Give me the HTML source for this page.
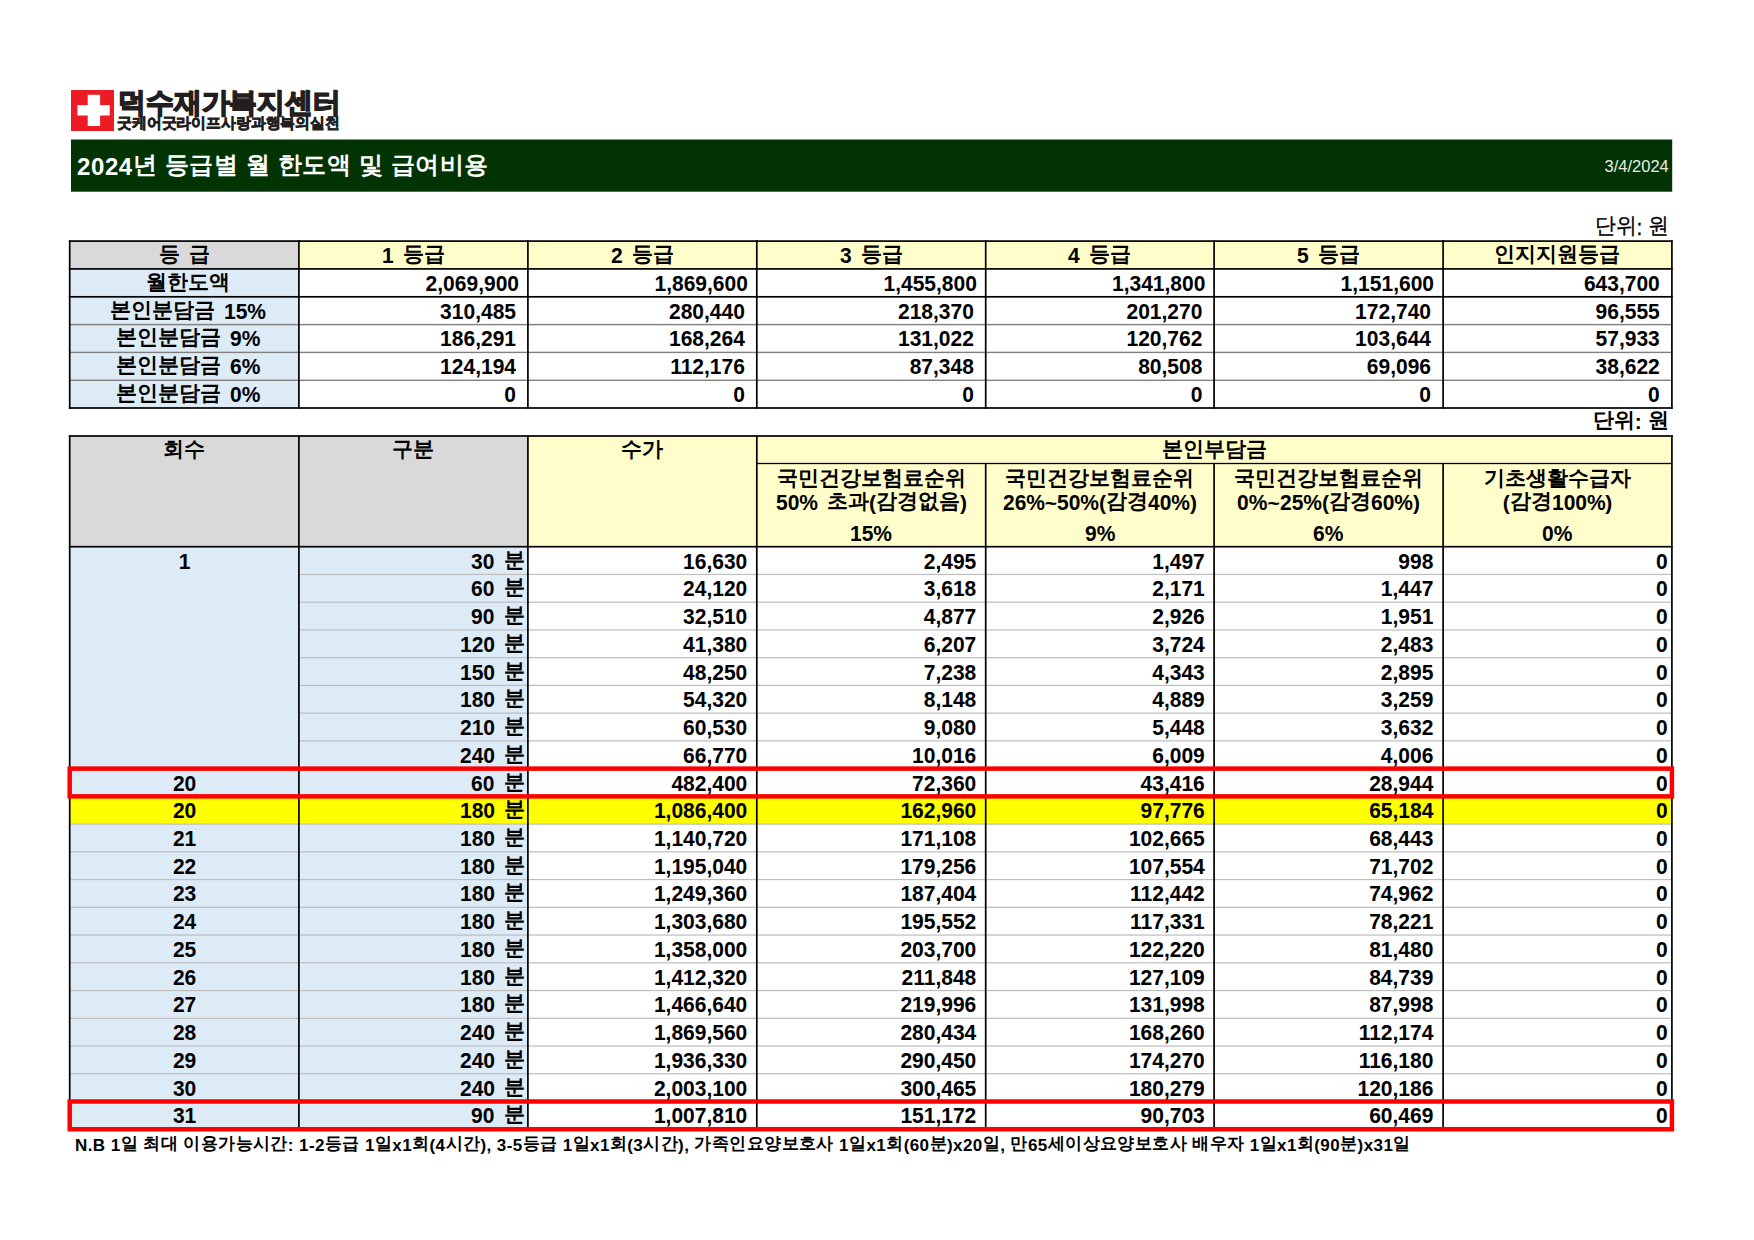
<!DOCTYPE html>
<html lang="ko"><head><meta charset="utf-8"><title>2024년 등급별 월 한도액 및 급여비용</title>
<style>
html,body{margin:0;padding:0;background:#fff;}
body{width:1754px;height:1240px;position:relative;overflow:hidden;font-family:"Liberation Sans", sans-serif;}
svg.bg{position:absolute;left:0;top:0;}
#t div{position:absolute;white-space:nowrap;line-height:40px;height:40px;}
.k{position:relative;}
.n{display:inline-block;line-height:1;transform-origin:0 50%;}
.t1h,.t1l,.t2s,.d1,.t2h{word-spacing:3.5px;}
</style></head><body>
<svg class="bg" width="1754" height="1240" viewBox="0 0 1754 1240">
<rect x="71.00" y="90.00" width="43.00" height="41.00" fill="#EC1C24"/>
<rect x="87.70" y="94.80" width="12.40" height="31.20" fill="#fff"/>
<rect x="77.40" y="105.10" width="32.30" height="10.40" fill="#fff"/>
<rect x="71.00" y="139.50" width="1601.20" height="52.20" fill="#023302"/>
<rect x="69.70" y="241.10" width="229.20" height="27.80" fill="#D9D9D9"/>
<rect x="298.90" y="241.10" width="1373.00" height="27.80" fill="#FFFDC9"/>
<rect x="69.70" y="268.90" width="229.20" height="139.10" fill="#DDEBF7"/>
<rect x="69.70" y="323.90" width="1602.20" height="1.40" fill="#7F7F7F"/>
<rect x="69.70" y="351.70" width="1602.20" height="1.40" fill="#7F7F7F"/>
<rect x="69.70" y="379.60" width="1602.20" height="1.40" fill="#7F7F7F"/>
<rect x="68.85" y="240.25" width="1603.90" height="1.70" fill="#000"/>
<rect x="68.85" y="268.05" width="1603.90" height="1.70" fill="#000"/>
<rect x="68.85" y="295.95" width="1603.90" height="1.70" fill="#000"/>
<rect x="68.85" y="407.15" width="1603.90" height="1.70" fill="#000"/>
<rect x="68.85" y="240.25" width="1.70" height="168.60" fill="#000"/>
<rect x="298.05" y="240.25" width="1.70" height="168.60" fill="#000"/>
<rect x="527.05" y="240.25" width="1.70" height="168.60" fill="#000"/>
<rect x="755.95" y="240.25" width="1.70" height="168.60" fill="#000"/>
<rect x="984.85" y="240.25" width="1.70" height="168.60" fill="#000"/>
<rect x="1213.25" y="240.25" width="1.70" height="168.60" fill="#000"/>
<rect x="1442.25" y="240.25" width="1.70" height="168.60" fill="#000"/>
<rect x="1671.05" y="240.25" width="1.70" height="168.60" fill="#000"/>
<rect x="69.70" y="436.00" width="458.20" height="110.70" fill="#D9D9D9"/>
<rect x="527.90" y="436.00" width="1144.00" height="110.70" fill="#FFFDC9"/>
<rect x="69.70" y="546.70" width="458.20" height="582.54" fill="#DDEBF7"/>
<rect x="69.70" y="796.36" width="1602.20" height="27.74" fill="#FFFF00"/>
<rect x="298.90" y="573.84" width="1373.00" height="1.20" fill="#BDBDBD"/>
<rect x="298.90" y="601.58" width="1373.00" height="1.20" fill="#BDBDBD"/>
<rect x="298.90" y="629.32" width="1373.00" height="1.20" fill="#BDBDBD"/>
<rect x="298.90" y="657.06" width="1373.00" height="1.20" fill="#BDBDBD"/>
<rect x="298.90" y="684.80" width="1373.00" height="1.20" fill="#BDBDBD"/>
<rect x="298.90" y="712.54" width="1373.00" height="1.20" fill="#BDBDBD"/>
<rect x="298.90" y="740.28" width="1373.00" height="1.20" fill="#BDBDBD"/>
<rect x="69.70" y="768.02" width="1602.20" height="1.20" fill="#BDBDBD"/>
<rect x="69.70" y="795.76" width="1602.20" height="1.20" fill="#BDBDBD"/>
<rect x="69.70" y="823.50" width="1602.20" height="1.20" fill="#BDBDBD"/>
<rect x="69.70" y="851.24" width="1602.20" height="1.20" fill="#BDBDBD"/>
<rect x="69.70" y="878.98" width="1602.20" height="1.20" fill="#BDBDBD"/>
<rect x="69.70" y="906.72" width="1602.20" height="1.20" fill="#BDBDBD"/>
<rect x="69.70" y="934.46" width="1602.20" height="1.20" fill="#BDBDBD"/>
<rect x="69.70" y="962.20" width="1602.20" height="1.20" fill="#BDBDBD"/>
<rect x="69.70" y="989.94" width="1602.20" height="1.20" fill="#BDBDBD"/>
<rect x="69.70" y="1017.68" width="1602.20" height="1.20" fill="#BDBDBD"/>
<rect x="69.70" y="1045.42" width="1602.20" height="1.20" fill="#BDBDBD"/>
<rect x="69.70" y="1073.16" width="1602.20" height="1.20" fill="#BDBDBD"/>
<rect x="69.70" y="1100.90" width="1602.20" height="1.20" fill="#BDBDBD"/>
<rect x="68.85" y="435.15" width="1603.90" height="1.70" fill="#000"/>
<rect x="756.80" y="462.85" width="915.10" height="1.30" fill="#000"/>
<rect x="68.85" y="545.85" width="1603.90" height="1.70" fill="#000"/>
<rect x="68.85" y="1128.39" width="1603.90" height="1.70" fill="#000"/>
<rect x="68.85" y="435.15" width="1.70" height="694.94" fill="#000"/>
<rect x="298.05" y="435.15" width="1.70" height="694.94" fill="#000"/>
<rect x="527.05" y="435.15" width="1.70" height="694.94" fill="#000"/>
<rect x="755.95" y="435.15" width="1.70" height="694.94" fill="#000"/>
<rect x="984.85" y="463.50" width="1.70" height="666.59" fill="#000"/>
<rect x="1213.25" y="463.50" width="1.70" height="666.59" fill="#000"/>
<rect x="1442.25" y="463.50" width="1.70" height="666.59" fill="#000"/>
<rect x="1671.05" y="435.15" width="1.70" height="694.94" fill="#000"/>
<rect x="69.70" y="768.62" width="1602.20" height="27.74" fill="none" stroke="#FF0000" stroke-width="4.5"/>
<rect x="69.70" y="1101.50" width="1602.20" height="27.74" fill="none" stroke="#FF0000" stroke-width="4.5"/>
</svg>
<div id="t">
<div class="logo1" style="left:117.50px;width:282.50px;top:82.80px;font-size:28px;font-weight:bold;text-align:left;color:#231F20;transform:scaleX(0.995);transform-origin:0 0;-webkit-text-stroke:1.6px #231F20;"><span class="k" style="top:0px">덕수재가복지센터</span></div>
<div class="logo2" style="left:117.00px;width:283.00px;top:103.30px;font-size:15px;font-weight:bold;text-align:left;color:#231F20;transform:scaleX(0.99);transform-origin:0 0;-webkit-text-stroke:0.7px #231F20;"><span class="k" style="top:0px">굿케어굿라이프사랑과행복의실천</span></div>
<div class="title" style="left:77.00px;width:623.00px;top:146.70px;font-size:24px;font-weight:bold;text-align:left;color:#fff;letter-spacing:0.6px;">2024<span class="k" style="top:-2.0px">년</span> <span class="k" style="top:-2.0px">등급별</span> <span class="k" style="top:-2.0px">월</span> <span class="k" style="top:-2.0px">한도액</span> <span class="k" style="top:-2.0px">및</span> <span class="k" style="top:-2.0px">급여비용</span></div>
<div class="date" style="left:1500.00px;width:168.80px;top:145.50px;font-size:16.5px;font-weight:normal;text-align:right;color:#E6EEE6;">3/4/2024</div>
<div class="unit1" style="left:1400.00px;width:269.00px;top:208.00px;font-size:22px;font-weight:normal;text-align:right;color:#000;transform:scaleX(0.95);transform-origin:100% 50%;-webkit-text-stroke:0.3px #000;"><span class="k" style="top:-2.0px">단위</span>: <span class="k" style="top:-2.0px">원</span></div>
<div class="unit2" style="left:1400.00px;width:268.50px;top:401.50px;font-size:21px;font-weight:bold;text-align:right;color:#000;"><span class="k" style="top:-2.0px">단위</span>: <span class="k" style="top:-2.0px">원</span></div>
<div class="t1h" style="left:69.70px;width:229.20px;top:235.80px;font-size:21px;font-weight:bold;text-align:center;color:#000;"><span class="k" style="top:-2.0px">등</span> <span class="k" style="top:-2.0px">급</span></div>
<div class="t1h" style="left:298.90px;width:229.00px;top:235.80px;font-size:21px;font-weight:bold;text-align:center;color:#000;"><span class="n" style="font-size:22.5px;margin-right:-0.84px;transform:scaleX(0.933)">1</span> <span class="k" style="top:-2.0px">등급</span></div>
<div class="t1h" style="left:527.90px;width:228.90px;top:235.80px;font-size:21px;font-weight:bold;text-align:center;color:#000;"><span class="n" style="font-size:22.5px;margin-right:-0.84px;transform:scaleX(0.933)">2</span> <span class="k" style="top:-2.0px">등급</span></div>
<div class="t1h" style="left:756.80px;width:228.90px;top:235.80px;font-size:21px;font-weight:bold;text-align:center;color:#000;"><span class="n" style="font-size:22.5px;margin-right:-0.84px;transform:scaleX(0.933)">3</span> <span class="k" style="top:-2.0px">등급</span></div>
<div class="t1h" style="left:985.70px;width:228.40px;top:235.80px;font-size:21px;font-weight:bold;text-align:center;color:#000;"><span class="n" style="font-size:22.5px;margin-right:-0.84px;transform:scaleX(0.933)">4</span> <span class="k" style="top:-2.0px">등급</span></div>
<div class="t1h" style="left:1214.10px;width:229.00px;top:235.80px;font-size:21px;font-weight:bold;text-align:center;color:#000;"><span class="n" style="font-size:22.5px;margin-right:-0.84px;transform:scaleX(0.933)">5</span> <span class="k" style="top:-2.0px">등급</span></div>
<div class="t1h" style="left:1443.10px;width:228.80px;top:235.80px;font-size:21px;font-weight:bold;text-align:center;color:#000;"><span class="k" style="top:-2.0px">인지지원등급</span></div>
<div class="t1l" style="left:73.70px;width:229.20px;top:263.60px;font-size:21px;font-weight:bold;text-align:center;color:#000;"><span class="k" style="top:-2.0px">월한도액</span></div>
<div class="t1n" style="left:298.90px;width:220.00px;top:263.60px;font-size:22.5px;font-weight:bold;text-align:right;color:#000;transform:scaleX(0.933);transform-origin:100% 50%;">2,069,900</div>
<div class="t1n" style="left:527.90px;width:219.90px;top:263.60px;font-size:22.5px;font-weight:bold;text-align:right;color:#000;transform:scaleX(0.933);transform-origin:100% 50%;">1,869,600</div>
<div class="t1n" style="left:756.80px;width:219.90px;top:263.60px;font-size:22.5px;font-weight:bold;text-align:right;color:#000;transform:scaleX(0.933);transform-origin:100% 50%;">1,455,800</div>
<div class="t1n" style="left:985.70px;width:219.40px;top:263.60px;font-size:22.5px;font-weight:bold;text-align:right;color:#000;transform:scaleX(0.933);transform-origin:100% 50%;">1,341,800</div>
<div class="t1n" style="left:1214.10px;width:220.00px;top:263.60px;font-size:22.5px;font-weight:bold;text-align:right;color:#000;transform:scaleX(0.933);transform-origin:100% 50%;">1,151,600</div>
<div class="t1n" style="left:1443.10px;width:216.80px;top:263.60px;font-size:22.5px;font-weight:bold;text-align:right;color:#000;transform:scaleX(0.933);transform-origin:100% 50%;">643,700</div>
<div class="t1l" style="left:73.70px;width:229.20px;top:291.50px;font-size:21px;font-weight:bold;text-align:center;color:#000;"><span class="k" style="top:-2.0px">본인분담금</span> <span class="n" style="font-size:22.5px;margin-right:-3.02px;transform:scaleX(0.933)">15%</span></div>
<div class="t1n" style="left:298.90px;width:217.00px;top:291.50px;font-size:22.5px;font-weight:bold;text-align:right;color:#000;transform:scaleX(0.933);transform-origin:100% 50%;">310,485</div>
<div class="t1n" style="left:527.90px;width:216.90px;top:291.50px;font-size:22.5px;font-weight:bold;text-align:right;color:#000;transform:scaleX(0.933);transform-origin:100% 50%;">280,440</div>
<div class="t1n" style="left:756.80px;width:216.90px;top:291.50px;font-size:22.5px;font-weight:bold;text-align:right;color:#000;transform:scaleX(0.933);transform-origin:100% 50%;">218,370</div>
<div class="t1n" style="left:985.70px;width:216.40px;top:291.50px;font-size:22.5px;font-weight:bold;text-align:right;color:#000;transform:scaleX(0.933);transform-origin:100% 50%;">201,270</div>
<div class="t1n" style="left:1214.10px;width:217.00px;top:291.50px;font-size:22.5px;font-weight:bold;text-align:right;color:#000;transform:scaleX(0.933);transform-origin:100% 50%;">172,740</div>
<div class="t1n" style="left:1443.10px;width:216.80px;top:291.50px;font-size:22.5px;font-weight:bold;text-align:right;color:#000;transform:scaleX(0.933);transform-origin:100% 50%;">96,555</div>
<div class="t1l" style="left:73.70px;width:229.20px;top:319.30px;font-size:21px;font-weight:bold;text-align:center;color:#000;"><span class="k" style="top:-2.0px">본인분담금</span> <span class="n" style="font-size:22.5px;margin-right:-2.18px;transform:scaleX(0.933)">9%</span></div>
<div class="t1n" style="left:298.90px;width:217.00px;top:319.30px;font-size:22.5px;font-weight:bold;text-align:right;color:#000;transform:scaleX(0.933);transform-origin:100% 50%;">186,291</div>
<div class="t1n" style="left:527.90px;width:216.90px;top:319.30px;font-size:22.5px;font-weight:bold;text-align:right;color:#000;transform:scaleX(0.933);transform-origin:100% 50%;">168,264</div>
<div class="t1n" style="left:756.80px;width:216.90px;top:319.30px;font-size:22.5px;font-weight:bold;text-align:right;color:#000;transform:scaleX(0.933);transform-origin:100% 50%;">131,022</div>
<div class="t1n" style="left:985.70px;width:216.40px;top:319.30px;font-size:22.5px;font-weight:bold;text-align:right;color:#000;transform:scaleX(0.933);transform-origin:100% 50%;">120,762</div>
<div class="t1n" style="left:1214.10px;width:217.00px;top:319.30px;font-size:22.5px;font-weight:bold;text-align:right;color:#000;transform:scaleX(0.933);transform-origin:100% 50%;">103,644</div>
<div class="t1n" style="left:1443.10px;width:216.80px;top:319.30px;font-size:22.5px;font-weight:bold;text-align:right;color:#000;transform:scaleX(0.933);transform-origin:100% 50%;">57,933</div>
<div class="t1l" style="left:73.70px;width:229.20px;top:347.10px;font-size:21px;font-weight:bold;text-align:center;color:#000;"><span class="k" style="top:-2.0px">본인분담금</span> <span class="n" style="font-size:22.5px;margin-right:-2.18px;transform:scaleX(0.933)">6%</span></div>
<div class="t1n" style="left:298.90px;width:217.00px;top:347.10px;font-size:22.5px;font-weight:bold;text-align:right;color:#000;transform:scaleX(0.933);transform-origin:100% 50%;">124,194</div>
<div class="t1n" style="left:527.90px;width:216.90px;top:347.10px;font-size:22.5px;font-weight:bold;text-align:right;color:#000;transform:scaleX(0.933);transform-origin:100% 50%;">112,176</div>
<div class="t1n" style="left:756.80px;width:216.90px;top:347.10px;font-size:22.5px;font-weight:bold;text-align:right;color:#000;transform:scaleX(0.933);transform-origin:100% 50%;">87,348</div>
<div class="t1n" style="left:985.70px;width:216.40px;top:347.10px;font-size:22.5px;font-weight:bold;text-align:right;color:#000;transform:scaleX(0.933);transform-origin:100% 50%;">80,508</div>
<div class="t1n" style="left:1214.10px;width:217.00px;top:347.10px;font-size:22.5px;font-weight:bold;text-align:right;color:#000;transform:scaleX(0.933);transform-origin:100% 50%;">69,096</div>
<div class="t1n" style="left:1443.10px;width:216.80px;top:347.10px;font-size:22.5px;font-weight:bold;text-align:right;color:#000;transform:scaleX(0.933);transform-origin:100% 50%;">38,622</div>
<div class="t1l" style="left:73.70px;width:229.20px;top:375.00px;font-size:21px;font-weight:bold;text-align:center;color:#000;"><span class="k" style="top:-2.0px">본인분담금</span> <span class="n" style="font-size:22.5px;margin-right:-2.18px;transform:scaleX(0.933)">0%</span></div>
<div class="t1n" style="left:298.90px;width:217.00px;top:375.00px;font-size:22.5px;font-weight:bold;text-align:right;color:#000;transform:scaleX(0.933);transform-origin:100% 50%;">0</div>
<div class="t1n" style="left:527.90px;width:216.90px;top:375.00px;font-size:22.5px;font-weight:bold;text-align:right;color:#000;transform:scaleX(0.933);transform-origin:100% 50%;">0</div>
<div class="t1n" style="left:756.80px;width:216.90px;top:375.00px;font-size:22.5px;font-weight:bold;text-align:right;color:#000;transform:scaleX(0.933);transform-origin:100% 50%;">0</div>
<div class="t1n" style="left:985.70px;width:216.40px;top:375.00px;font-size:22.5px;font-weight:bold;text-align:right;color:#000;transform:scaleX(0.933);transform-origin:100% 50%;">0</div>
<div class="t1n" style="left:1214.10px;width:217.00px;top:375.00px;font-size:22.5px;font-weight:bold;text-align:right;color:#000;transform:scaleX(0.933);transform-origin:100% 50%;">0</div>
<div class="t1n" style="left:1443.10px;width:216.80px;top:375.00px;font-size:22.5px;font-weight:bold;text-align:right;color:#000;transform:scaleX(0.933);transform-origin:100% 50%;">0</div>
<div class="t2h" style="left:69.70px;width:229.20px;top:430.50px;font-size:21px;font-weight:bold;text-align:center;color:#000;"><span class="k" style="top:-2.0px">회수</span></div>
<div class="t2h" style="left:298.90px;width:229.00px;top:430.50px;font-size:21px;font-weight:bold;text-align:center;color:#000;"><span class="k" style="top:-2.0px">구분</span></div>
<div class="t2h" style="left:527.90px;width:228.90px;top:430.50px;font-size:21px;font-weight:bold;text-align:center;color:#000;"><span class="k" style="top:-2.0px">수가</span></div>
<div class="t2h" style="left:756.80px;width:915.10px;top:430.50px;font-size:21px;font-weight:bold;text-align:center;color:#000;"><span class="k" style="top:-2.0px">본인부담금</span></div>
<div class="t2s" style="left:756.80px;width:228.90px;top:460.00px;font-size:21px;font-weight:bold;text-align:center;color:#000;"><span class="k" style="top:-2.0px">국민건강보험료순위</span></div>
<div class="t2s" style="left:756.80px;width:228.90px;top:483.00px;font-size:21px;font-weight:bold;text-align:center;color:#000;"><span class="n" style="font-size:22.5px;margin-right:-3.02px;transform:scaleX(0.933)">50%</span> <span class="k" style="top:-2.0px">초과</span>(<span class="k" style="top:-2.0px">감경없음</span>)</div>
<div class="t2s" style="left:756.80px;width:228.90px;top:513.50px;font-size:21px;font-weight:bold;text-align:center;color:#000;"><span class="n" style="font-size:22.5px;margin-right:-3.02px;transform:scaleX(0.933)">15%</span></div>
<div class="t2s" style="left:985.70px;width:228.40px;top:460.00px;font-size:21px;font-weight:bold;text-align:center;color:#000;"><span class="k" style="top:-2.0px">국민건강보험료순위</span></div>
<div class="t2s" style="left:985.70px;width:228.40px;top:483.00px;font-size:21px;font-weight:bold;text-align:center;color:#000;"><span class="n" style="font-size:22.5px;margin-right:-3.02px;transform:scaleX(0.933)">26%</span>~<span class="n" style="font-size:22.5px;margin-right:-3.02px;transform:scaleX(0.933)">50%</span>(<span class="k" style="top:-2.0px">감경</span><span class="n" style="font-size:22.5px;margin-right:-3.02px;transform:scaleX(0.933)">40%</span>)</div>
<div class="t2s" style="left:985.70px;width:228.40px;top:513.50px;font-size:21px;font-weight:bold;text-align:center;color:#000;"><span class="n" style="font-size:22.5px;margin-right:-2.18px;transform:scaleX(0.933)">9%</span></div>
<div class="t2s" style="left:1214.10px;width:229.00px;top:460.00px;font-size:21px;font-weight:bold;text-align:center;color:#000;"><span class="k" style="top:-2.0px">국민건강보험료순위</span></div>
<div class="t2s" style="left:1214.10px;width:229.00px;top:483.00px;font-size:21px;font-weight:bold;text-align:center;color:#000;"><span class="n" style="font-size:22.5px;margin-right:-2.18px;transform:scaleX(0.933)">0%</span>~<span class="n" style="font-size:22.5px;margin-right:-3.02px;transform:scaleX(0.933)">25%</span>(<span class="k" style="top:-2.0px">감경</span><span class="n" style="font-size:22.5px;margin-right:-3.02px;transform:scaleX(0.933)">60%</span>)</div>
<div class="t2s" style="left:1214.10px;width:229.00px;top:513.50px;font-size:21px;font-weight:bold;text-align:center;color:#000;"><span class="n" style="font-size:22.5px;margin-right:-2.18px;transform:scaleX(0.933)">6%</span></div>
<div class="t2s" style="left:1443.10px;width:228.80px;top:460.00px;font-size:21px;font-weight:bold;text-align:center;color:#000;"><span class="k" style="top:-2.0px">기초생활수급자</span></div>
<div class="t2s" style="left:1443.10px;width:228.80px;top:483.00px;font-size:21px;font-weight:bold;text-align:center;color:#000;">(<span class="k" style="top:-2.0px">감경</span><span class="n" style="font-size:22.5px;margin-right:-3.86px;transform:scaleX(0.933)">100%</span>)</div>
<div class="t2s" style="left:1443.10px;width:228.80px;top:513.50px;font-size:21px;font-weight:bold;text-align:center;color:#000;"><span class="n" style="font-size:22.5px;margin-right:-2.18px;transform:scaleX(0.933)">0%</span></div>
<div class="d0" style="left:69.70px;width:229.20px;top:541.60px;font-size:22.5px;font-weight:bold;text-align:center;color:#000;transform:scaleX(0.933);transform-origin:50% 50%;">1</div>
<div class="d1" style="left:298.90px;width:226.00px;top:541.60px;font-size:21px;font-weight:bold;text-align:right;color:#000;"><span class="n" style="font-size:22.5px;margin-right:-1.68px;transform:scaleX(0.933)">30</span> <span class="k" style="top:-2.0px">분</span></div>
<div class="dn" style="left:527.90px;width:219.30px;top:541.60px;font-size:22.5px;font-weight:bold;text-align:right;color:#000;transform:scaleX(0.933);transform-origin:100% 50%;">16,630</div>
<div class="dn" style="left:756.80px;width:219.30px;top:541.60px;font-size:22.5px;font-weight:bold;text-align:right;color:#000;transform:scaleX(0.933);transform-origin:100% 50%;">2,495</div>
<div class="dn" style="left:985.70px;width:218.80px;top:541.60px;font-size:22.5px;font-weight:bold;text-align:right;color:#000;transform:scaleX(0.933);transform-origin:100% 50%;">1,497</div>
<div class="dn" style="left:1214.10px;width:219.40px;top:541.60px;font-size:22.5px;font-weight:bold;text-align:right;color:#000;transform:scaleX(0.933);transform-origin:100% 50%;">998</div>
<div class="dn" style="left:1443.10px;width:224.60px;top:541.60px;font-size:22.5px;font-weight:bold;text-align:right;color:#000;transform:scaleX(0.933);transform-origin:100% 50%;">0</div>
<div class="d1" style="left:298.90px;width:226.00px;top:569.34px;font-size:21px;font-weight:bold;text-align:right;color:#000;"><span class="n" style="font-size:22.5px;margin-right:-1.68px;transform:scaleX(0.933)">60</span> <span class="k" style="top:-2.0px">분</span></div>
<div class="dn" style="left:527.90px;width:219.30px;top:569.34px;font-size:22.5px;font-weight:bold;text-align:right;color:#000;transform:scaleX(0.933);transform-origin:100% 50%;">24,120</div>
<div class="dn" style="left:756.80px;width:219.30px;top:569.34px;font-size:22.5px;font-weight:bold;text-align:right;color:#000;transform:scaleX(0.933);transform-origin:100% 50%;">3,618</div>
<div class="dn" style="left:985.70px;width:218.80px;top:569.34px;font-size:22.5px;font-weight:bold;text-align:right;color:#000;transform:scaleX(0.933);transform-origin:100% 50%;">2,171</div>
<div class="dn" style="left:1214.10px;width:219.40px;top:569.34px;font-size:22.5px;font-weight:bold;text-align:right;color:#000;transform:scaleX(0.933);transform-origin:100% 50%;">1,447</div>
<div class="dn" style="left:1443.10px;width:224.60px;top:569.34px;font-size:22.5px;font-weight:bold;text-align:right;color:#000;transform:scaleX(0.933);transform-origin:100% 50%;">0</div>
<div class="d1" style="left:298.90px;width:226.00px;top:597.08px;font-size:21px;font-weight:bold;text-align:right;color:#000;"><span class="n" style="font-size:22.5px;margin-right:-1.68px;transform:scaleX(0.933)">90</span> <span class="k" style="top:-2.0px">분</span></div>
<div class="dn" style="left:527.90px;width:219.30px;top:597.08px;font-size:22.5px;font-weight:bold;text-align:right;color:#000;transform:scaleX(0.933);transform-origin:100% 50%;">32,510</div>
<div class="dn" style="left:756.80px;width:219.30px;top:597.08px;font-size:22.5px;font-weight:bold;text-align:right;color:#000;transform:scaleX(0.933);transform-origin:100% 50%;">4,877</div>
<div class="dn" style="left:985.70px;width:218.80px;top:597.08px;font-size:22.5px;font-weight:bold;text-align:right;color:#000;transform:scaleX(0.933);transform-origin:100% 50%;">2,926</div>
<div class="dn" style="left:1214.10px;width:219.40px;top:597.08px;font-size:22.5px;font-weight:bold;text-align:right;color:#000;transform:scaleX(0.933);transform-origin:100% 50%;">1,951</div>
<div class="dn" style="left:1443.10px;width:224.60px;top:597.08px;font-size:22.5px;font-weight:bold;text-align:right;color:#000;transform:scaleX(0.933);transform-origin:100% 50%;">0</div>
<div class="d1" style="left:298.90px;width:226.00px;top:624.82px;font-size:21px;font-weight:bold;text-align:right;color:#000;"><span class="n" style="font-size:22.5px;margin-right:-2.52px;transform:scaleX(0.933)">120</span> <span class="k" style="top:-2.0px">분</span></div>
<div class="dn" style="left:527.90px;width:219.30px;top:624.82px;font-size:22.5px;font-weight:bold;text-align:right;color:#000;transform:scaleX(0.933);transform-origin:100% 50%;">41,380</div>
<div class="dn" style="left:756.80px;width:219.30px;top:624.82px;font-size:22.5px;font-weight:bold;text-align:right;color:#000;transform:scaleX(0.933);transform-origin:100% 50%;">6,207</div>
<div class="dn" style="left:985.70px;width:218.80px;top:624.82px;font-size:22.5px;font-weight:bold;text-align:right;color:#000;transform:scaleX(0.933);transform-origin:100% 50%;">3,724</div>
<div class="dn" style="left:1214.10px;width:219.40px;top:624.82px;font-size:22.5px;font-weight:bold;text-align:right;color:#000;transform:scaleX(0.933);transform-origin:100% 50%;">2,483</div>
<div class="dn" style="left:1443.10px;width:224.60px;top:624.82px;font-size:22.5px;font-weight:bold;text-align:right;color:#000;transform:scaleX(0.933);transform-origin:100% 50%;">0</div>
<div class="d1" style="left:298.90px;width:226.00px;top:652.56px;font-size:21px;font-weight:bold;text-align:right;color:#000;"><span class="n" style="font-size:22.5px;margin-right:-2.52px;transform:scaleX(0.933)">150</span> <span class="k" style="top:-2.0px">분</span></div>
<div class="dn" style="left:527.90px;width:219.30px;top:652.56px;font-size:22.5px;font-weight:bold;text-align:right;color:#000;transform:scaleX(0.933);transform-origin:100% 50%;">48,250</div>
<div class="dn" style="left:756.80px;width:219.30px;top:652.56px;font-size:22.5px;font-weight:bold;text-align:right;color:#000;transform:scaleX(0.933);transform-origin:100% 50%;">7,238</div>
<div class="dn" style="left:985.70px;width:218.80px;top:652.56px;font-size:22.5px;font-weight:bold;text-align:right;color:#000;transform:scaleX(0.933);transform-origin:100% 50%;">4,343</div>
<div class="dn" style="left:1214.10px;width:219.40px;top:652.56px;font-size:22.5px;font-weight:bold;text-align:right;color:#000;transform:scaleX(0.933);transform-origin:100% 50%;">2,895</div>
<div class="dn" style="left:1443.10px;width:224.60px;top:652.56px;font-size:22.5px;font-weight:bold;text-align:right;color:#000;transform:scaleX(0.933);transform-origin:100% 50%;">0</div>
<div class="d1" style="left:298.90px;width:226.00px;top:680.30px;font-size:21px;font-weight:bold;text-align:right;color:#000;"><span class="n" style="font-size:22.5px;margin-right:-2.52px;transform:scaleX(0.933)">180</span> <span class="k" style="top:-2.0px">분</span></div>
<div class="dn" style="left:527.90px;width:219.30px;top:680.30px;font-size:22.5px;font-weight:bold;text-align:right;color:#000;transform:scaleX(0.933);transform-origin:100% 50%;">54,320</div>
<div class="dn" style="left:756.80px;width:219.30px;top:680.30px;font-size:22.5px;font-weight:bold;text-align:right;color:#000;transform:scaleX(0.933);transform-origin:100% 50%;">8,148</div>
<div class="dn" style="left:985.70px;width:218.80px;top:680.30px;font-size:22.5px;font-weight:bold;text-align:right;color:#000;transform:scaleX(0.933);transform-origin:100% 50%;">4,889</div>
<div class="dn" style="left:1214.10px;width:219.40px;top:680.30px;font-size:22.5px;font-weight:bold;text-align:right;color:#000;transform:scaleX(0.933);transform-origin:100% 50%;">3,259</div>
<div class="dn" style="left:1443.10px;width:224.60px;top:680.30px;font-size:22.5px;font-weight:bold;text-align:right;color:#000;transform:scaleX(0.933);transform-origin:100% 50%;">0</div>
<div class="d1" style="left:298.90px;width:226.00px;top:708.04px;font-size:21px;font-weight:bold;text-align:right;color:#000;"><span class="n" style="font-size:22.5px;margin-right:-2.52px;transform:scaleX(0.933)">210</span> <span class="k" style="top:-2.0px">분</span></div>
<div class="dn" style="left:527.90px;width:219.30px;top:708.04px;font-size:22.5px;font-weight:bold;text-align:right;color:#000;transform:scaleX(0.933);transform-origin:100% 50%;">60,530</div>
<div class="dn" style="left:756.80px;width:219.30px;top:708.04px;font-size:22.5px;font-weight:bold;text-align:right;color:#000;transform:scaleX(0.933);transform-origin:100% 50%;">9,080</div>
<div class="dn" style="left:985.70px;width:218.80px;top:708.04px;font-size:22.5px;font-weight:bold;text-align:right;color:#000;transform:scaleX(0.933);transform-origin:100% 50%;">5,448</div>
<div class="dn" style="left:1214.10px;width:219.40px;top:708.04px;font-size:22.5px;font-weight:bold;text-align:right;color:#000;transform:scaleX(0.933);transform-origin:100% 50%;">3,632</div>
<div class="dn" style="left:1443.10px;width:224.60px;top:708.04px;font-size:22.5px;font-weight:bold;text-align:right;color:#000;transform:scaleX(0.933);transform-origin:100% 50%;">0</div>
<div class="d1" style="left:298.90px;width:226.00px;top:735.78px;font-size:21px;font-weight:bold;text-align:right;color:#000;"><span class="n" style="font-size:22.5px;margin-right:-2.52px;transform:scaleX(0.933)">240</span> <span class="k" style="top:-2.0px">분</span></div>
<div class="dn" style="left:527.90px;width:219.30px;top:735.78px;font-size:22.5px;font-weight:bold;text-align:right;color:#000;transform:scaleX(0.933);transform-origin:100% 50%;">66,770</div>
<div class="dn" style="left:756.80px;width:219.30px;top:735.78px;font-size:22.5px;font-weight:bold;text-align:right;color:#000;transform:scaleX(0.933);transform-origin:100% 50%;">10,016</div>
<div class="dn" style="left:985.70px;width:218.80px;top:735.78px;font-size:22.5px;font-weight:bold;text-align:right;color:#000;transform:scaleX(0.933);transform-origin:100% 50%;">6,009</div>
<div class="dn" style="left:1214.10px;width:219.40px;top:735.78px;font-size:22.5px;font-weight:bold;text-align:right;color:#000;transform:scaleX(0.933);transform-origin:100% 50%;">4,006</div>
<div class="dn" style="left:1443.10px;width:224.60px;top:735.78px;font-size:22.5px;font-weight:bold;text-align:right;color:#000;transform:scaleX(0.933);transform-origin:100% 50%;">0</div>
<div class="d0" style="left:69.70px;width:229.20px;top:763.52px;font-size:22.5px;font-weight:bold;text-align:center;color:#000;transform:scaleX(0.933);transform-origin:50% 50%;">20</div>
<div class="d1" style="left:298.90px;width:226.00px;top:763.52px;font-size:21px;font-weight:bold;text-align:right;color:#000;"><span class="n" style="font-size:22.5px;margin-right:-1.68px;transform:scaleX(0.933)">60</span> <span class="k" style="top:-2.0px">분</span></div>
<div class="dn" style="left:527.90px;width:219.30px;top:763.52px;font-size:22.5px;font-weight:bold;text-align:right;color:#000;transform:scaleX(0.933);transform-origin:100% 50%;">482,400</div>
<div class="dn" style="left:756.80px;width:219.30px;top:763.52px;font-size:22.5px;font-weight:bold;text-align:right;color:#000;transform:scaleX(0.933);transform-origin:100% 50%;">72,360</div>
<div class="dn" style="left:985.70px;width:218.80px;top:763.52px;font-size:22.5px;font-weight:bold;text-align:right;color:#000;transform:scaleX(0.933);transform-origin:100% 50%;">43,416</div>
<div class="dn" style="left:1214.10px;width:219.40px;top:763.52px;font-size:22.5px;font-weight:bold;text-align:right;color:#000;transform:scaleX(0.933);transform-origin:100% 50%;">28,944</div>
<div class="dn" style="left:1443.10px;width:224.60px;top:763.52px;font-size:22.5px;font-weight:bold;text-align:right;color:#000;transform:scaleX(0.933);transform-origin:100% 50%;">0</div>
<div class="d0" style="left:69.70px;width:229.20px;top:791.26px;font-size:22.5px;font-weight:bold;text-align:center;color:#000;transform:scaleX(0.933);transform-origin:50% 50%;">20</div>
<div class="d1" style="left:298.90px;width:226.00px;top:791.26px;font-size:21px;font-weight:bold;text-align:right;color:#000;"><span class="n" style="font-size:22.5px;margin-right:-2.52px;transform:scaleX(0.933)">180</span> <span class="k" style="top:-2.0px">분</span></div>
<div class="dn" style="left:527.90px;width:219.30px;top:791.26px;font-size:22.5px;font-weight:bold;text-align:right;color:#000;transform:scaleX(0.933);transform-origin:100% 50%;">1,086,400</div>
<div class="dn" style="left:756.80px;width:219.30px;top:791.26px;font-size:22.5px;font-weight:bold;text-align:right;color:#000;transform:scaleX(0.933);transform-origin:100% 50%;">162,960</div>
<div class="dn" style="left:985.70px;width:218.80px;top:791.26px;font-size:22.5px;font-weight:bold;text-align:right;color:#000;transform:scaleX(0.933);transform-origin:100% 50%;">97,776</div>
<div class="dn" style="left:1214.10px;width:219.40px;top:791.26px;font-size:22.5px;font-weight:bold;text-align:right;color:#000;transform:scaleX(0.933);transform-origin:100% 50%;">65,184</div>
<div class="dn" style="left:1443.10px;width:224.60px;top:791.26px;font-size:22.5px;font-weight:bold;text-align:right;color:#000;transform:scaleX(0.933);transform-origin:100% 50%;">0</div>
<div class="d0" style="left:69.70px;width:229.20px;top:819.00px;font-size:22.5px;font-weight:bold;text-align:center;color:#000;transform:scaleX(0.933);transform-origin:50% 50%;">21</div>
<div class="d1" style="left:298.90px;width:226.00px;top:819.00px;font-size:21px;font-weight:bold;text-align:right;color:#000;"><span class="n" style="font-size:22.5px;margin-right:-2.52px;transform:scaleX(0.933)">180</span> <span class="k" style="top:-2.0px">분</span></div>
<div class="dn" style="left:527.90px;width:219.30px;top:819.00px;font-size:22.5px;font-weight:bold;text-align:right;color:#000;transform:scaleX(0.933);transform-origin:100% 50%;">1,140,720</div>
<div class="dn" style="left:756.80px;width:219.30px;top:819.00px;font-size:22.5px;font-weight:bold;text-align:right;color:#000;transform:scaleX(0.933);transform-origin:100% 50%;">171,108</div>
<div class="dn" style="left:985.70px;width:218.80px;top:819.00px;font-size:22.5px;font-weight:bold;text-align:right;color:#000;transform:scaleX(0.933);transform-origin:100% 50%;">102,665</div>
<div class="dn" style="left:1214.10px;width:219.40px;top:819.00px;font-size:22.5px;font-weight:bold;text-align:right;color:#000;transform:scaleX(0.933);transform-origin:100% 50%;">68,443</div>
<div class="dn" style="left:1443.10px;width:224.60px;top:819.00px;font-size:22.5px;font-weight:bold;text-align:right;color:#000;transform:scaleX(0.933);transform-origin:100% 50%;">0</div>
<div class="d0" style="left:69.70px;width:229.20px;top:846.74px;font-size:22.5px;font-weight:bold;text-align:center;color:#000;transform:scaleX(0.933);transform-origin:50% 50%;">22</div>
<div class="d1" style="left:298.90px;width:226.00px;top:846.74px;font-size:21px;font-weight:bold;text-align:right;color:#000;"><span class="n" style="font-size:22.5px;margin-right:-2.52px;transform:scaleX(0.933)">180</span> <span class="k" style="top:-2.0px">분</span></div>
<div class="dn" style="left:527.90px;width:219.30px;top:846.74px;font-size:22.5px;font-weight:bold;text-align:right;color:#000;transform:scaleX(0.933);transform-origin:100% 50%;">1,195,040</div>
<div class="dn" style="left:756.80px;width:219.30px;top:846.74px;font-size:22.5px;font-weight:bold;text-align:right;color:#000;transform:scaleX(0.933);transform-origin:100% 50%;">179,256</div>
<div class="dn" style="left:985.70px;width:218.80px;top:846.74px;font-size:22.5px;font-weight:bold;text-align:right;color:#000;transform:scaleX(0.933);transform-origin:100% 50%;">107,554</div>
<div class="dn" style="left:1214.10px;width:219.40px;top:846.74px;font-size:22.5px;font-weight:bold;text-align:right;color:#000;transform:scaleX(0.933);transform-origin:100% 50%;">71,702</div>
<div class="dn" style="left:1443.10px;width:224.60px;top:846.74px;font-size:22.5px;font-weight:bold;text-align:right;color:#000;transform:scaleX(0.933);transform-origin:100% 50%;">0</div>
<div class="d0" style="left:69.70px;width:229.20px;top:874.48px;font-size:22.5px;font-weight:bold;text-align:center;color:#000;transform:scaleX(0.933);transform-origin:50% 50%;">23</div>
<div class="d1" style="left:298.90px;width:226.00px;top:874.48px;font-size:21px;font-weight:bold;text-align:right;color:#000;"><span class="n" style="font-size:22.5px;margin-right:-2.52px;transform:scaleX(0.933)">180</span> <span class="k" style="top:-2.0px">분</span></div>
<div class="dn" style="left:527.90px;width:219.30px;top:874.48px;font-size:22.5px;font-weight:bold;text-align:right;color:#000;transform:scaleX(0.933);transform-origin:100% 50%;">1,249,360</div>
<div class="dn" style="left:756.80px;width:219.30px;top:874.48px;font-size:22.5px;font-weight:bold;text-align:right;color:#000;transform:scaleX(0.933);transform-origin:100% 50%;">187,404</div>
<div class="dn" style="left:985.70px;width:218.80px;top:874.48px;font-size:22.5px;font-weight:bold;text-align:right;color:#000;transform:scaleX(0.933);transform-origin:100% 50%;">112,442</div>
<div class="dn" style="left:1214.10px;width:219.40px;top:874.48px;font-size:22.5px;font-weight:bold;text-align:right;color:#000;transform:scaleX(0.933);transform-origin:100% 50%;">74,962</div>
<div class="dn" style="left:1443.10px;width:224.60px;top:874.48px;font-size:22.5px;font-weight:bold;text-align:right;color:#000;transform:scaleX(0.933);transform-origin:100% 50%;">0</div>
<div class="d0" style="left:69.70px;width:229.20px;top:902.22px;font-size:22.5px;font-weight:bold;text-align:center;color:#000;transform:scaleX(0.933);transform-origin:50% 50%;">24</div>
<div class="d1" style="left:298.90px;width:226.00px;top:902.22px;font-size:21px;font-weight:bold;text-align:right;color:#000;"><span class="n" style="font-size:22.5px;margin-right:-2.52px;transform:scaleX(0.933)">180</span> <span class="k" style="top:-2.0px">분</span></div>
<div class="dn" style="left:527.90px;width:219.30px;top:902.22px;font-size:22.5px;font-weight:bold;text-align:right;color:#000;transform:scaleX(0.933);transform-origin:100% 50%;">1,303,680</div>
<div class="dn" style="left:756.80px;width:219.30px;top:902.22px;font-size:22.5px;font-weight:bold;text-align:right;color:#000;transform:scaleX(0.933);transform-origin:100% 50%;">195,552</div>
<div class="dn" style="left:985.70px;width:218.80px;top:902.22px;font-size:22.5px;font-weight:bold;text-align:right;color:#000;transform:scaleX(0.933);transform-origin:100% 50%;">117,331</div>
<div class="dn" style="left:1214.10px;width:219.40px;top:902.22px;font-size:22.5px;font-weight:bold;text-align:right;color:#000;transform:scaleX(0.933);transform-origin:100% 50%;">78,221</div>
<div class="dn" style="left:1443.10px;width:224.60px;top:902.22px;font-size:22.5px;font-weight:bold;text-align:right;color:#000;transform:scaleX(0.933);transform-origin:100% 50%;">0</div>
<div class="d0" style="left:69.70px;width:229.20px;top:929.96px;font-size:22.5px;font-weight:bold;text-align:center;color:#000;transform:scaleX(0.933);transform-origin:50% 50%;">25</div>
<div class="d1" style="left:298.90px;width:226.00px;top:929.96px;font-size:21px;font-weight:bold;text-align:right;color:#000;"><span class="n" style="font-size:22.5px;margin-right:-2.52px;transform:scaleX(0.933)">180</span> <span class="k" style="top:-2.0px">분</span></div>
<div class="dn" style="left:527.90px;width:219.30px;top:929.96px;font-size:22.5px;font-weight:bold;text-align:right;color:#000;transform:scaleX(0.933);transform-origin:100% 50%;">1,358,000</div>
<div class="dn" style="left:756.80px;width:219.30px;top:929.96px;font-size:22.5px;font-weight:bold;text-align:right;color:#000;transform:scaleX(0.933);transform-origin:100% 50%;">203,700</div>
<div class="dn" style="left:985.70px;width:218.80px;top:929.96px;font-size:22.5px;font-weight:bold;text-align:right;color:#000;transform:scaleX(0.933);transform-origin:100% 50%;">122,220</div>
<div class="dn" style="left:1214.10px;width:219.40px;top:929.96px;font-size:22.5px;font-weight:bold;text-align:right;color:#000;transform:scaleX(0.933);transform-origin:100% 50%;">81,480</div>
<div class="dn" style="left:1443.10px;width:224.60px;top:929.96px;font-size:22.5px;font-weight:bold;text-align:right;color:#000;transform:scaleX(0.933);transform-origin:100% 50%;">0</div>
<div class="d0" style="left:69.70px;width:229.20px;top:957.70px;font-size:22.5px;font-weight:bold;text-align:center;color:#000;transform:scaleX(0.933);transform-origin:50% 50%;">26</div>
<div class="d1" style="left:298.90px;width:226.00px;top:957.70px;font-size:21px;font-weight:bold;text-align:right;color:#000;"><span class="n" style="font-size:22.5px;margin-right:-2.52px;transform:scaleX(0.933)">180</span> <span class="k" style="top:-2.0px">분</span></div>
<div class="dn" style="left:527.90px;width:219.30px;top:957.70px;font-size:22.5px;font-weight:bold;text-align:right;color:#000;transform:scaleX(0.933);transform-origin:100% 50%;">1,412,320</div>
<div class="dn" style="left:756.80px;width:219.30px;top:957.70px;font-size:22.5px;font-weight:bold;text-align:right;color:#000;transform:scaleX(0.933);transform-origin:100% 50%;">211,848</div>
<div class="dn" style="left:985.70px;width:218.80px;top:957.70px;font-size:22.5px;font-weight:bold;text-align:right;color:#000;transform:scaleX(0.933);transform-origin:100% 50%;">127,109</div>
<div class="dn" style="left:1214.10px;width:219.40px;top:957.70px;font-size:22.5px;font-weight:bold;text-align:right;color:#000;transform:scaleX(0.933);transform-origin:100% 50%;">84,739</div>
<div class="dn" style="left:1443.10px;width:224.60px;top:957.70px;font-size:22.5px;font-weight:bold;text-align:right;color:#000;transform:scaleX(0.933);transform-origin:100% 50%;">0</div>
<div class="d0" style="left:69.70px;width:229.20px;top:985.44px;font-size:22.5px;font-weight:bold;text-align:center;color:#000;transform:scaleX(0.933);transform-origin:50% 50%;">27</div>
<div class="d1" style="left:298.90px;width:226.00px;top:985.44px;font-size:21px;font-weight:bold;text-align:right;color:#000;"><span class="n" style="font-size:22.5px;margin-right:-2.52px;transform:scaleX(0.933)">180</span> <span class="k" style="top:-2.0px">분</span></div>
<div class="dn" style="left:527.90px;width:219.30px;top:985.44px;font-size:22.5px;font-weight:bold;text-align:right;color:#000;transform:scaleX(0.933);transform-origin:100% 50%;">1,466,640</div>
<div class="dn" style="left:756.80px;width:219.30px;top:985.44px;font-size:22.5px;font-weight:bold;text-align:right;color:#000;transform:scaleX(0.933);transform-origin:100% 50%;">219,996</div>
<div class="dn" style="left:985.70px;width:218.80px;top:985.44px;font-size:22.5px;font-weight:bold;text-align:right;color:#000;transform:scaleX(0.933);transform-origin:100% 50%;">131,998</div>
<div class="dn" style="left:1214.10px;width:219.40px;top:985.44px;font-size:22.5px;font-weight:bold;text-align:right;color:#000;transform:scaleX(0.933);transform-origin:100% 50%;">87,998</div>
<div class="dn" style="left:1443.10px;width:224.60px;top:985.44px;font-size:22.5px;font-weight:bold;text-align:right;color:#000;transform:scaleX(0.933);transform-origin:100% 50%;">0</div>
<div class="d0" style="left:69.70px;width:229.20px;top:1013.18px;font-size:22.5px;font-weight:bold;text-align:center;color:#000;transform:scaleX(0.933);transform-origin:50% 50%;">28</div>
<div class="d1" style="left:298.90px;width:226.00px;top:1013.18px;font-size:21px;font-weight:bold;text-align:right;color:#000;"><span class="n" style="font-size:22.5px;margin-right:-2.52px;transform:scaleX(0.933)">240</span> <span class="k" style="top:-2.0px">분</span></div>
<div class="dn" style="left:527.90px;width:219.30px;top:1013.18px;font-size:22.5px;font-weight:bold;text-align:right;color:#000;transform:scaleX(0.933);transform-origin:100% 50%;">1,869,560</div>
<div class="dn" style="left:756.80px;width:219.30px;top:1013.18px;font-size:22.5px;font-weight:bold;text-align:right;color:#000;transform:scaleX(0.933);transform-origin:100% 50%;">280,434</div>
<div class="dn" style="left:985.70px;width:218.80px;top:1013.18px;font-size:22.5px;font-weight:bold;text-align:right;color:#000;transform:scaleX(0.933);transform-origin:100% 50%;">168,260</div>
<div class="dn" style="left:1214.10px;width:219.40px;top:1013.18px;font-size:22.5px;font-weight:bold;text-align:right;color:#000;transform:scaleX(0.933);transform-origin:100% 50%;">112,174</div>
<div class="dn" style="left:1443.10px;width:224.60px;top:1013.18px;font-size:22.5px;font-weight:bold;text-align:right;color:#000;transform:scaleX(0.933);transform-origin:100% 50%;">0</div>
<div class="d0" style="left:69.70px;width:229.20px;top:1040.92px;font-size:22.5px;font-weight:bold;text-align:center;color:#000;transform:scaleX(0.933);transform-origin:50% 50%;">29</div>
<div class="d1" style="left:298.90px;width:226.00px;top:1040.92px;font-size:21px;font-weight:bold;text-align:right;color:#000;"><span class="n" style="font-size:22.5px;margin-right:-2.52px;transform:scaleX(0.933)">240</span> <span class="k" style="top:-2.0px">분</span></div>
<div class="dn" style="left:527.90px;width:219.30px;top:1040.92px;font-size:22.5px;font-weight:bold;text-align:right;color:#000;transform:scaleX(0.933);transform-origin:100% 50%;">1,936,330</div>
<div class="dn" style="left:756.80px;width:219.30px;top:1040.92px;font-size:22.5px;font-weight:bold;text-align:right;color:#000;transform:scaleX(0.933);transform-origin:100% 50%;">290,450</div>
<div class="dn" style="left:985.70px;width:218.80px;top:1040.92px;font-size:22.5px;font-weight:bold;text-align:right;color:#000;transform:scaleX(0.933);transform-origin:100% 50%;">174,270</div>
<div class="dn" style="left:1214.10px;width:219.40px;top:1040.92px;font-size:22.5px;font-weight:bold;text-align:right;color:#000;transform:scaleX(0.933);transform-origin:100% 50%;">116,180</div>
<div class="dn" style="left:1443.10px;width:224.60px;top:1040.92px;font-size:22.5px;font-weight:bold;text-align:right;color:#000;transform:scaleX(0.933);transform-origin:100% 50%;">0</div>
<div class="d0" style="left:69.70px;width:229.20px;top:1068.66px;font-size:22.5px;font-weight:bold;text-align:center;color:#000;transform:scaleX(0.933);transform-origin:50% 50%;">30</div>
<div class="d1" style="left:298.90px;width:226.00px;top:1068.66px;font-size:21px;font-weight:bold;text-align:right;color:#000;"><span class="n" style="font-size:22.5px;margin-right:-2.52px;transform:scaleX(0.933)">240</span> <span class="k" style="top:-2.0px">분</span></div>
<div class="dn" style="left:527.90px;width:219.30px;top:1068.66px;font-size:22.5px;font-weight:bold;text-align:right;color:#000;transform:scaleX(0.933);transform-origin:100% 50%;">2,003,100</div>
<div class="dn" style="left:756.80px;width:219.30px;top:1068.66px;font-size:22.5px;font-weight:bold;text-align:right;color:#000;transform:scaleX(0.933);transform-origin:100% 50%;">300,465</div>
<div class="dn" style="left:985.70px;width:218.80px;top:1068.66px;font-size:22.5px;font-weight:bold;text-align:right;color:#000;transform:scaleX(0.933);transform-origin:100% 50%;">180,279</div>
<div class="dn" style="left:1214.10px;width:219.40px;top:1068.66px;font-size:22.5px;font-weight:bold;text-align:right;color:#000;transform:scaleX(0.933);transform-origin:100% 50%;">120,186</div>
<div class="dn" style="left:1443.10px;width:224.60px;top:1068.66px;font-size:22.5px;font-weight:bold;text-align:right;color:#000;transform:scaleX(0.933);transform-origin:100% 50%;">0</div>
<div class="d0" style="left:69.70px;width:229.20px;top:1096.40px;font-size:22.5px;font-weight:bold;text-align:center;color:#000;transform:scaleX(0.933);transform-origin:50% 50%;">31</div>
<div class="d1" style="left:298.90px;width:226.00px;top:1096.40px;font-size:21px;font-weight:bold;text-align:right;color:#000;"><span class="n" style="font-size:22.5px;margin-right:-1.68px;transform:scaleX(0.933)">90</span> <span class="k" style="top:-2.0px">분</span></div>
<div class="dn" style="left:527.90px;width:219.30px;top:1096.40px;font-size:22.5px;font-weight:bold;text-align:right;color:#000;transform:scaleX(0.933);transform-origin:100% 50%;">1,007,810</div>
<div class="dn" style="left:756.80px;width:219.30px;top:1096.40px;font-size:22.5px;font-weight:bold;text-align:right;color:#000;transform:scaleX(0.933);transform-origin:100% 50%;">151,172</div>
<div class="dn" style="left:985.70px;width:218.80px;top:1096.40px;font-size:22.5px;font-weight:bold;text-align:right;color:#000;transform:scaleX(0.933);transform-origin:100% 50%;">90,703</div>
<div class="dn" style="left:1214.10px;width:219.40px;top:1096.40px;font-size:22.5px;font-weight:bold;text-align:right;color:#000;transform:scaleX(0.933);transform-origin:100% 50%;">60,469</div>
<div class="dn" style="left:1443.10px;width:224.60px;top:1096.40px;font-size:22.5px;font-weight:bold;text-align:right;color:#000;transform:scaleX(0.933);transform-origin:100% 50%;">0</div>
<div class="foot" style="left:75.00px;width:1425.00px;top:1125.50px;font-size:17px;font-weight:bold;text-align:left;color:#000;letter-spacing:0.43px;">N.B 1<span class="k" style="top:-2.0px">일</span> <span class="k" style="top:-2.0px">최대</span> <span class="k" style="top:-2.0px">이용가능시간</span>: 1-2<span class="k" style="top:-2.0px">등급</span> 1<span class="k" style="top:-2.0px">일</span>x1<span class="k" style="top:-2.0px">회</span>(4<span class="k" style="top:-2.0px">시간</span>), 3-5<span class="k" style="top:-2.0px">등급</span> 1<span class="k" style="top:-2.0px">일</span>x1<span class="k" style="top:-2.0px">회</span>(3<span class="k" style="top:-2.0px">시간</span>), <span class="k" style="top:-2.0px">가족인요양보호사</span> 1<span class="k" style="top:-2.0px">일</span>x1<span class="k" style="top:-2.0px">회</span>(60<span class="k" style="top:-2.0px">분</span>)x20<span class="k" style="top:-2.0px">일</span>, <span class="k" style="top:-2.0px">만</span>65<span class="k" style="top:-2.0px">세이상요양보호사</span> <span class="k" style="top:-2.0px">배우자</span> 1<span class="k" style="top:-2.0px">일</span>x1<span class="k" style="top:-2.0px">회</span>(90<span class="k" style="top:-2.0px">분</span>)x31<span class="k" style="top:-2.0px">일</span></div>
</div>
</body></html>
